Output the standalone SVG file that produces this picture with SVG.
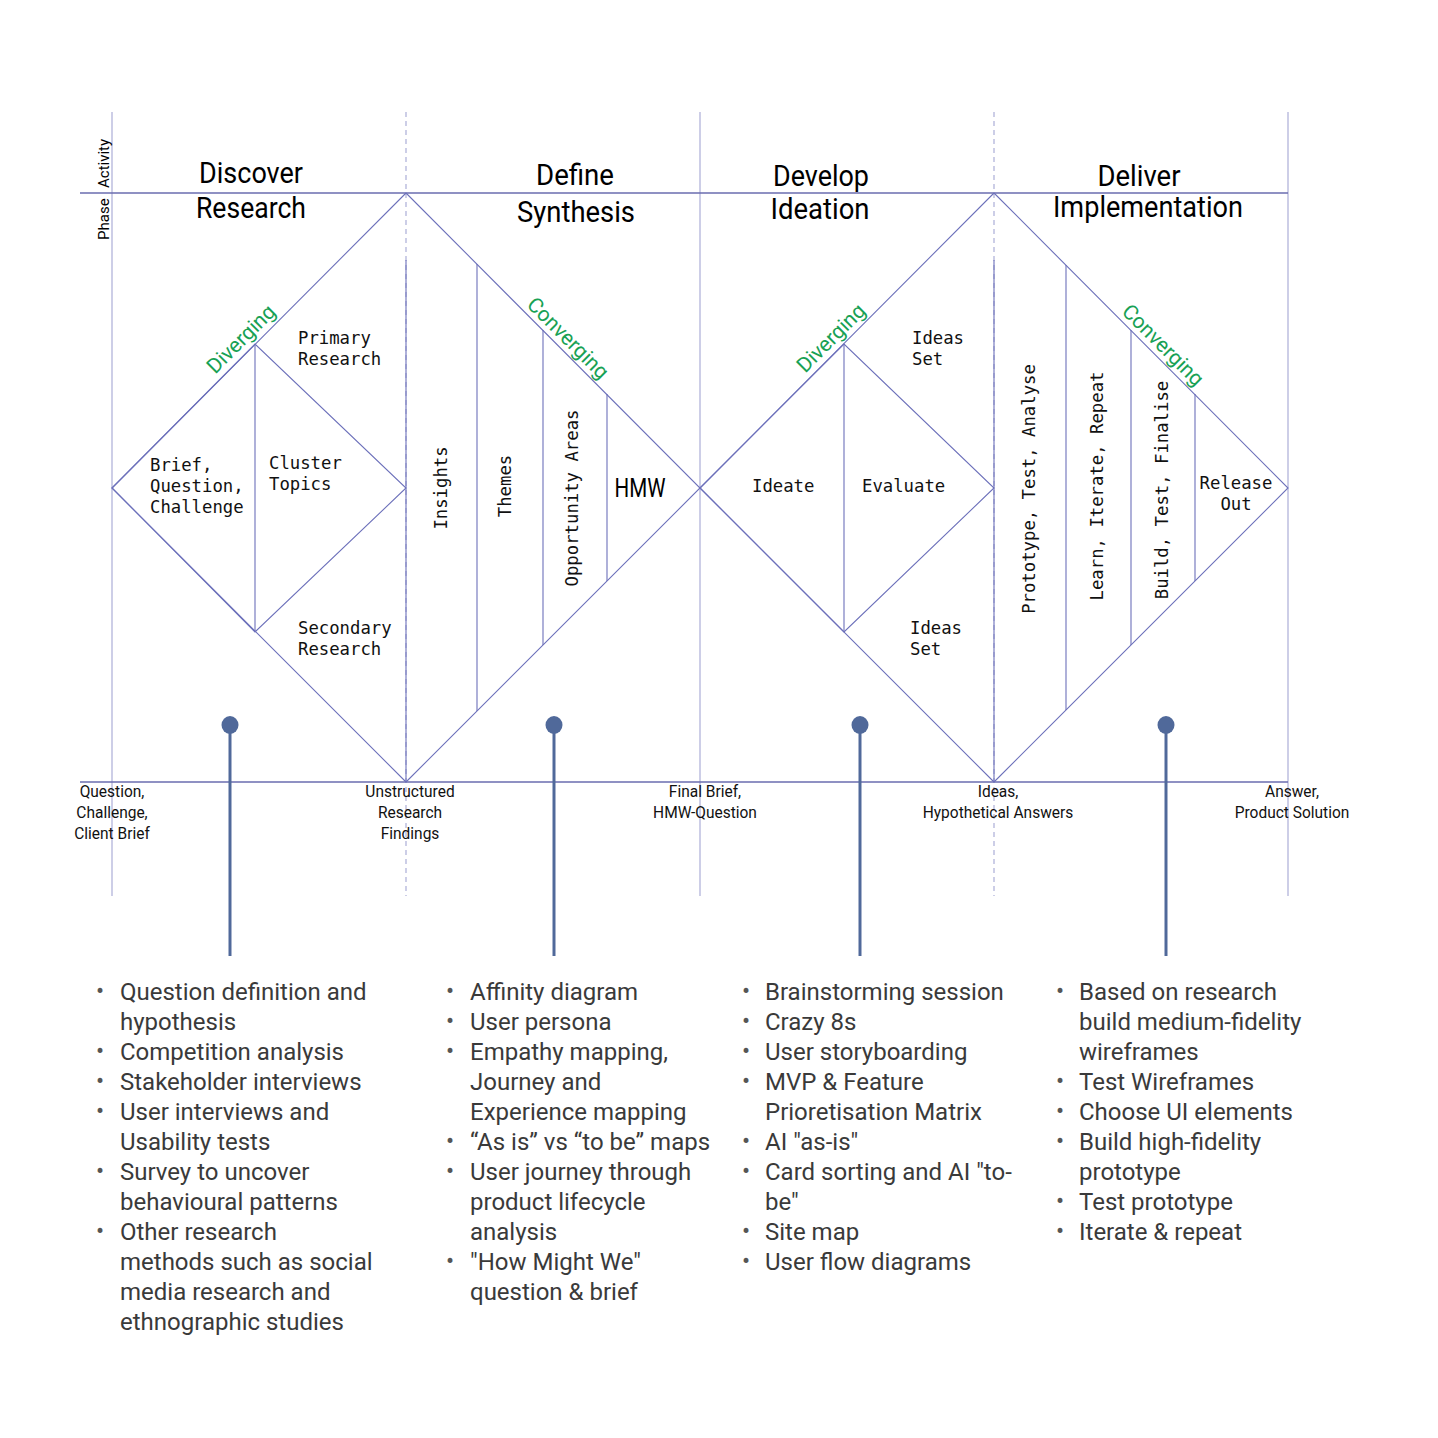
<svg xmlns="http://www.w3.org/2000/svg" width="1438" height="1438" viewBox="0 0 1438 1438">
<style>
.grid{stroke:#B2B4DA;stroke-width:1.3;fill:none}
.dash{stroke:#B2B4DA;stroke-width:1.3;stroke-dasharray:5 4;fill:none}
.axis{stroke:#6A6DAF;stroke-width:1.6;fill:none}
.dl{stroke:#6C70BA;stroke-width:1.1;fill:none}
.pin{stroke:#50699A;stroke-width:3;fill:none}
.dot{fill:#50699A}
.hd{font-family:Roboto,"Liberation Sans",sans-serif;font-size:29px;fill:#000;text-anchor:middle}
.ph{font-family:Roboto,"Liberation Sans",sans-serif;font-size:15px;fill:#000}
.gr{font-family:Roboto,"Liberation Sans",sans-serif;font-size:21px;fill:#18A154;text-anchor:middle}
.mo{font-family:"DejaVu Sans Mono","Liberation Mono",monospace;font-size:17.3px;fill:#111}
.mc{font-family:"DejaVu Sans Mono","Liberation Mono",monospace;font-size:17.3px;fill:#111;text-anchor:middle}
.bl{font-family:Roboto,"Liberation Sans",sans-serif;font-size:16.5px;fill:#111;text-anchor:middle}
.li{font-family:Roboto,"Liberation Sans",sans-serif;font-size:24px;fill:#3a3a3a}
.bu{font-family:Roboto,"Liberation Sans",sans-serif;font-size:24px;fill:#555}
</style>
<rect width="1438" height="1438" fill="#fff"/>
<g id="grid">
<line class="grid" x1="112" y1="112" x2="112" y2="896"/>
<line class="dash" x1="406" y1="112" x2="406" y2="896"/>
<line class="grid" x1="700" y1="112" x2="700" y2="896"/>
<line class="dash" x1="994" y1="112" x2="994" y2="896"/>
<line class="grid" x1="1288" y1="112" x2="1288" y2="896"/>
<line class="axis" x1="80" y1="193" x2="1288" y2="193"/>
<line class="axis" x1="80" y1="782" x2="1288" y2="782"/>
</g>
<g id="connectors">
<line class="pin" x1="230" y1="725" x2="230" y2="956"/>
<line class="pin" x1="554" y1="725" x2="554" y2="956"/>
<line class="pin" x1="860" y1="725" x2="860" y2="956"/>
<line class="pin" x1="1166" y1="725" x2="1166" y2="956"/>
<ellipse class="dot" cx="230" cy="725" rx="8.5" ry="9"/>
<ellipse class="dot" cx="554" cy="725" rx="8.5" ry="9"/>
<ellipse class="dot" cx="860" cy="725" rx="8.5" ry="9"/>
<ellipse class="dot" cx="1166" cy="725" rx="8.5" ry="9"/>
</g>
<g id="discover">
<polyline class="dl" points="406,193 112,488 406,782"/>
<polygon class="dl" points="112,488 255,344 406,488 255,632"/>
<line class="dl" x1="255" y1="344" x2="255" y2="632"/>
<line class="dl" x1="406" y1="260" x2="406" y2="782"/>
<text class="hd" x="251" y="183" textLength="104" lengthAdjust="spacingAndGlyphs">Discover</text>
<text class="hd" x="251" y="218" textLength="110" lengthAdjust="spacingAndGlyphs">Research</text>
<text class="gr" transform="translate(246,344) rotate(-45)">Diverging</text>
<text class="mo" x="298" y="344">Primary</text>
<text class="mo" x="298" y="365">Research</text>
<text class="mo" x="150" y="471">Brief,</text>
<text class="mo" x="150" y="492">Question,</text>
<text class="mo" x="150" y="513">Challenge</text>
<text class="mo" x="269" y="469">Cluster</text>
<text class="mo" x="269" y="490">Topics</text>
<text class="mo" x="298" y="634">Secondary</text>
<text class="mo" x="298" y="655">Research</text>
</g>
<g id="define">
<polyline class="dl" points="406,193 700,488 406,782"/>
<line class="dl" x1="477" y1="264" x2="477" y2="711"/>
<line class="dl" x1="543" y1="330" x2="543" y2="645"/>
<line class="dl" x1="607" y1="394" x2="607" y2="581"/>
<text class="hd" x="575" y="185" textLength="78" lengthAdjust="spacingAndGlyphs">Define</text>
<text class="hd" x="576" y="222" textLength="118" lengthAdjust="spacingAndGlyphs">Synthesis</text>
<text class="gr" transform="translate(563,343) rotate(45)">Converging</text>
<text class="mc" transform="translate(447,488) rotate(-90)">Insights</text>
<text class="mc" transform="translate(511,486) rotate(-90)">Themes</text>
<text class="mc" transform="translate(578,498) rotate(-90)">Opportunity Areas</text>
<text class="hd" x="640" y="497" style="font-size:25px" textLength="51" lengthAdjust="spacingAndGlyphs">HMW</text>
</g>
<g id="develop">
<polyline class="dl" points="994,193 700,488 994,782"/>
<polygon class="dl" points="700,488 844,344 994,488 844,632"/>
<line class="dl" x1="844" y1="344" x2="844" y2="632"/>
<line class="dl" x1="994" y1="260" x2="994" y2="782"/>
<text class="hd" x="821" y="186" textLength="96" lengthAdjust="spacingAndGlyphs">Develop</text>
<text class="hd" x="820" y="219" textLength="99" lengthAdjust="spacingAndGlyphs">Ideation</text>
<text class="gr" transform="translate(836,343) rotate(-45)">Diverging</text>
<text class="mo" x="912" y="344">Ideas</text>
<text class="mo" x="912" y="365">Set</text>
<text class="mo" x="752" y="492">Ideate</text>
<text class="mo" x="862" y="492">Evaluate</text>
<text class="mo" x="910" y="634">Ideas</text>
<text class="mo" x="910" y="655">Set</text>
</g>
<g id="deliver">
<polyline class="dl" points="994,193 1288,488 994,782"/>
<line class="dl" x1="1066" y1="265" x2="1066" y2="710"/>
<line class="dl" x1="1131" y1="330" x2="1131" y2="645"/>
<line class="dl" x1="1195" y1="394" x2="1195" y2="581"/>
<text class="hd" x="1139" y="186" textLength="83" lengthAdjust="spacingAndGlyphs">Deliver</text>
<text class="hd" x="1148" y="217" textLength="190" lengthAdjust="spacingAndGlyphs">Implementation</text>
<text class="gr" transform="translate(1158,350) rotate(45)">Converging</text>
<text class="mc" transform="translate(1035,489) rotate(-90)">Prototype, Test, Analyse</text>
<text class="mc" transform="translate(1103,486) rotate(-90)">Learn, Iterate, Repeat</text>
<text class="mc" transform="translate(1168,490) rotate(-90)">Build, Test, Finalise</text>
<text class="mc" x="1236" y="489">Release</text>
<text class="mc" x="1236" y="510">Out</text>
</g>
<g id="phase-label">
<text class="ph" transform="translate(109,240) rotate(-90)">Phase</text>
<text class="ph" transform="translate(109,188) rotate(-90)">Activity</text>
</g>
<g id="milestones">
<text class="bl" transform="translate(112,797) scale(0.94,1)">Question,</text>
<text class="bl" transform="translate(112,818) scale(0.94,1)">Challenge,</text>
<text class="bl" transform="translate(112,839) scale(0.94,1)">Client Brief</text>
<text class="bl" transform="translate(410,797) scale(0.94,1)">Unstructured</text>
<text class="bl" transform="translate(410,818) scale(0.94,1)">Research</text>
<text class="bl" transform="translate(410,839) scale(0.94,1)">Findings</text>
<text class="bl" transform="translate(705,797) scale(0.94,1)">Final Brief,</text>
<text class="bl" transform="translate(705,818) scale(0.94,1)">HMW-Question</text>
<text class="bl" transform="translate(998,797) scale(0.94,1)">Ideas,</text>
<text class="bl" transform="translate(998,818) scale(0.94,1)">Hypothetical Answers</text>
<text class="bl" transform="translate(1292,797) scale(0.94,1)">Answer,</text>
<text class="bl" transform="translate(1292,818) scale(0.94,1)">Product Solution</text>
</g>
<g id="list-discover">
<text class="bu" x="96" y="999">•</text><text class="li" x="120" y="1000">Question definition and</text>
<text class="li" x="120" y="1030">hypothesis</text>
<text class="bu" x="96" y="1059">•</text><text class="li" x="120" y="1060">Competition analysis</text>
<text class="bu" x="96" y="1089">•</text><text class="li" x="120" y="1090">Stakeholder interviews</text>
<text class="bu" x="96" y="1119">•</text><text class="li" x="120" y="1120">User interviews and</text>
<text class="li" x="120" y="1150">Usability tests</text>
<text class="bu" x="96" y="1179">•</text><text class="li" x="120" y="1180">Survey to uncover</text>
<text class="li" x="120" y="1210">behavioural patterns</text>
<text class="bu" x="96" y="1239">•</text><text class="li" x="120" y="1240">Other research</text>
<text class="li" x="120" y="1270">methods such as social</text>
<text class="li" x="120" y="1300">media research and</text>
<text class="li" x="120" y="1330">ethnographic studies</text>
</g>
<g id="list-define">
<text class="bu" x="446" y="999">•</text><text class="li" x="470" y="1000">Affinity diagram</text>
<text class="bu" x="446" y="1029">•</text><text class="li" x="470" y="1030">User persona</text>
<text class="bu" x="446" y="1059">•</text><text class="li" x="470" y="1060">Empathy mapping,</text>
<text class="li" x="470" y="1090">Journey and</text>
<text class="li" x="470" y="1120">Experience mapping</text>
<text class="bu" x="446" y="1149">•</text><text class="li" x="470" y="1150">“As is” vs “to be” maps</text>
<text class="bu" x="446" y="1179">•</text><text class="li" x="470" y="1180">User journey through</text>
<text class="li" x="470" y="1210">product lifecycle</text>
<text class="li" x="470" y="1240">analysis</text>
<text class="bu" x="446" y="1269">•</text><text class="li" x="470" y="1270">"How Might We"</text>
<text class="li" x="470" y="1300">question &amp; brief</text>
</g>
<g id="list-develop">
<text class="bu" x="742" y="999">•</text><text class="li" x="765" y="1000">Brainstorming session</text>
<text class="bu" x="742" y="1029">•</text><text class="li" x="765" y="1030">Crazy 8s</text>
<text class="bu" x="742" y="1059">•</text><text class="li" x="765" y="1060">User storyboarding</text>
<text class="bu" x="742" y="1089">•</text><text class="li" x="765" y="1090">MVP &amp; Feature</text>
<text class="li" x="765" y="1120">Prioretisation Matrix</text>
<text class="bu" x="742" y="1149">•</text><text class="li" x="765" y="1150">AI "as-is"</text>
<text class="bu" x="742" y="1179">•</text><text class="li" x="765" y="1180">Card sorting and AI "to-</text>
<text class="li" x="765" y="1210">be"</text>
<text class="bu" x="742" y="1239">•</text><text class="li" x="765" y="1240">Site map</text>
<text class="bu" x="742" y="1269">•</text><text class="li" x="765" y="1270">User flow diagrams</text>
</g>
<g id="list-deliver">
<text class="bu" x="1056" y="999">•</text><text class="li" x="1079" y="1000">Based on research</text>
<text class="li" x="1079" y="1030">build medium-fidelity</text>
<text class="li" x="1079" y="1060">wireframes</text>
<text class="bu" x="1056" y="1089">•</text><text class="li" x="1079" y="1090">Test Wireframes</text>
<text class="bu" x="1056" y="1119">•</text><text class="li" x="1079" y="1120">Choose UI elements</text>
<text class="bu" x="1056" y="1149">•</text><text class="li" x="1079" y="1150">Build high-fidelity</text>
<text class="li" x="1079" y="1180">prototype</text>
<text class="bu" x="1056" y="1209">•</text><text class="li" x="1079" y="1210">Test prototype</text>
<text class="bu" x="1056" y="1239">•</text><text class="li" x="1079" y="1240">Iterate &amp; repeat</text>
</g>
</svg>
